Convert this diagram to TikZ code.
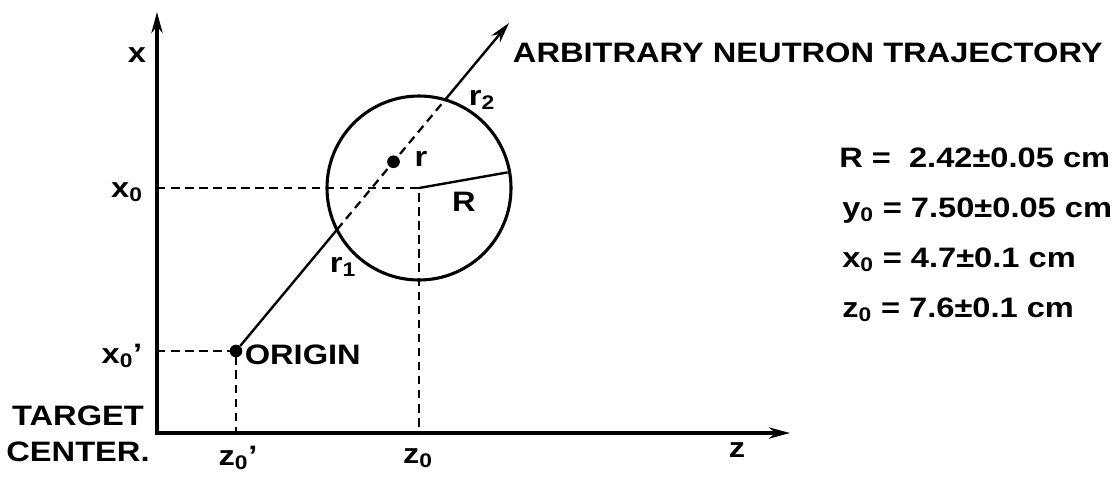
\documentclass[tikz,border=0pt]{standalone}
\usepackage{fontspec}
\setmainfont[FakeStretch=1.16]{Liberation Sans}
\usetikzlibrary{calc, positioning, arrows.meta}

\begin{document}
\begin{tikzpicture}[x=0.025cm, y=-0.025cm, >={Stealth[length=15pt,width=8pt]},
  every node/.style={font=\fontsize{20}{26}\selectfont\bfseries},
  axis/.style={line width=2.2pt},
  guide/.style={line width=1.6pt, dash pattern=on 6pt off 4pt},
  ray/.style={line width=1.7pt},
  dot/.style={circle, fill, inner sep=0pt, minimum size=9pt}]
  \useasboundingbox (0,0) rectangle (1119,476);
  % axes
  \coordinate (corner) at (157,433);
  \coordinate (xtip) at (157,12);
  \coordinate (ztip) at (790,433);
  \draw[axis,<->] (xtip) -- (corner) -- (ztip);
  \node (xlab) at (137,55) {x};
  \node (zlab) at (737,450) {z};
  \node[align=center] (target) at (78,434) {TARGET\\CENTER.};
  % sample circle and its radius
  \coordinate (ctr) at (419,188);
  \draw[line width=2.2pt] (ctr) circle[radius=92];
  \draw[ray] (ctr) -- ++(-10:90) coordinate (rim);
  \node (Rlab) at (464,202) {R};
  % neutron path, dashed inside the sample
  \node[dot] (orig) at (236,351) {};
  \coordinate (tip) at (509,23);
  \coordinate (entry) at ($(orig)!0.37!(tip)$);
  \coordinate (exit) at ($(orig)!0.764!(tip)$);
  \node[dot] (rpt) at ($(orig)!0.577!(tip)$) {};
  \draw[ray] (orig) -- (entry);
  \draw[guide] (entry) -- (exit);
  \draw[ray,->] (exit) -- (tip);
  \node[right=-2pt of orig, yshift=-3pt] (origlab) {ORIGIN};
  \node (rlab) at (421,159) {r};
  \node (r1lab) at (343,267) {r\textsubscript{1}};
  \node (r2lab) at (482,100) {r\textsubscript{2}};
  \node[anchor=west] (trajlab) at (508,53) {ARBITRARY NEUTRON TRAJECTORY};
  % projections on the axes
  \draw[guide] (ctr -| corner) -- (ctr) -- (ctr |- corner);
  \draw[guide] (orig -| corner) -- (orig.center) -- (orig |- corner);
  \node (xolab) at (127,192) {x\textsubscript{0}};
  \node (xoplab) at (122,356) {x\textsubscript{0}'};
  \node (zolab) at (418,458) {z\textsubscript{0}};
  \node (zoplab) at (238,458) {z\textsubscript{0}'};
  % measured values
  \node[anchor=base west, inner sep=0pt] (datR) at (839,167) {R = \ 2.42±0.05 cm};
  \node[anchor=base west, inner sep=0pt] (datY) at (842,217) {y\textsubscript{0} = 7.50±0.05 cm};
  \node[anchor=base west, inner sep=0pt] (datX) at (842,267) {x\textsubscript{0} = 4.7±0.1 cm};
  \node[anchor=base west, inner sep=0pt] (datZ) at (842,317) {z\textsubscript{0} = 7.6±0.1 cm};
\end{tikzpicture}
\end{document}
